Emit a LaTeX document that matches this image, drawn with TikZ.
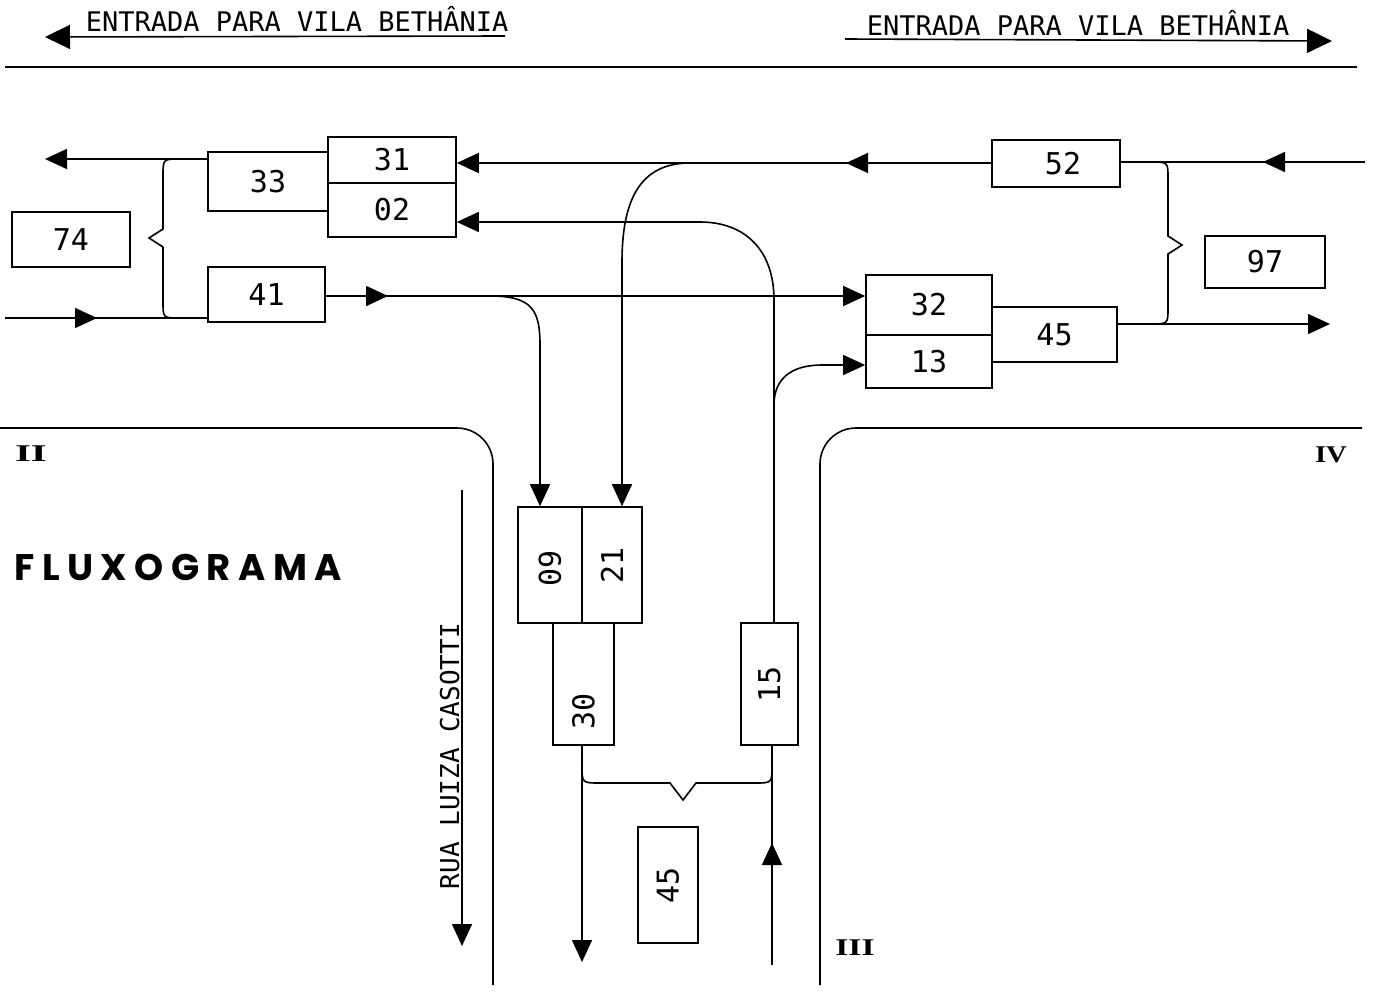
\documentclass[tikz,border=0pt]{standalone}
\usepackage{fontspec}
\setmainfont{DejaVu Sans Mono}
\newfontfamily\fluxfont{Poppins}[LetterSpace=20]
\newfontfamily\romfont{Liberation Serif}
\usetikzlibrary{arrows.meta}
\tikzset{
  arr/.style={-{Triangle[length=22pt,width=20pt]}},
  box/.style={draw, inner sep=0pt, font=\fontsize{30}{34}\selectfont},
  hdr/.style={font=\fontsize{27}{32}\selectfont, inner sep=0pt},
  rom/.style={font=\romfont\bfseries\fontsize{24}{26}\selectfont, inner sep=0pt}
}
\begin{document}
\begin{tikzpicture}[x=1pt,y=-1pt,line width=1.6pt]
\useasboundingbox (0,0) rectangle (1373,993);
% header
\node[hdr, anchor=base west] (hL) at (85,31) {ENTRADA PARA VILA BETHÂNIA};
\node[hdr, anchor=base west] (hR) at (866,35) {ENTRADA PARA VILA BETHÂNIA};
\coordinate (hL1) at (505,36);
\coordinate (hL2) at (45,37);
\coordinate (hR1) at (845,39);
\coordinate (hR2) at (1332,41);
\draw[-{Triangle[length=25pt,width=24pt]}] (hL1) -- (hL2);
\draw[-{Triangle[length=25pt,width=24pt]}] (hR1) -- (hR2);
\coordinate (r1) at (5,67);
\coordinate (r2) at (1357,67);
\draw (r1) -- (r2);
% boxes
\node[box, minimum width=118pt, minimum height=55pt] (b74) at (71,239.5) {74};
\node[box, minimum width=120pt, minimum height=59pt] (b33) at (268,181.5) {33};
\node[box, minimum width=128pt, minimum height=46pt] (b31) at (392,160) {31};
\node[box, minimum width=128pt, minimum height=54pt] (b02) at (392,210) {02};
\node[box, minimum width=117pt, minimum height=55pt] (b41) at (266.5,294.5) {41};
\node[box, minimum width=128pt, minimum height=47pt] (b52) at (1056,163.5) {\hspace*{14pt}52};
\node[box, minimum width=120pt, minimum height=52pt] (b97) at (1265,262) {97};
\node[box, minimum width=126pt, minimum height=60pt] (b32) at (929,305) {32};
\node[box, minimum width=126pt, minimum height=53pt] (b13) at (929,361.5) {13};
\node[box, minimum width=125pt, minimum height=55pt] (b45r) at (1054.5,334.5) {45};
\node[box, minimum width=64pt, minimum height=116pt] (b09) at (550,565) {\rotatebox{90}{09\hspace*{6pt}}};
\node[box, minimum width=60pt, minimum height=116pt] (b21) at (612,565) {\rotatebox{90}{21}};
\node[box, minimum width=61pt, minimum height=122pt] (b30) at (583.5,684) {\rotatebox{90}{30\hspace*{54pt}}};
\node[box, minimum width=57pt, minimum height=122pt] (b15) at (769.5,684) {\rotatebox{90}{15}};
\node[box, minimum width=60pt, minimum height=116pt] (b45b) at (668,885) {\rotatebox{90}{45}};
% left flows
\coordinate (wL1) at (45,159);
\draw[arr] (b33.west |- wL1) -- (wL1);
\coordinate (wL2) at (5,318);
\draw (wL2) -- (b41.west |- wL2);
\draw[arr] (wL2) -- (97,318);
\draw[arr] (b41.east |- 0,296) -- (b32.west |- 0,296);
\draw[arr] (b41.east |- 0,296) -- (388,296);
\draw (163,176) .. controls (163,159) .. (180,159);
\draw (180,318) .. controls (163,318) .. (163,302) -- (163,247) -- (149,238) -- (163,229) -- (163,176);
% top flow 52 -> 31
\draw[arr] (b52.west |- 0,163) -- (b31.east |- 0,163);
\draw[arr] (870,163) -- (846,163);
\coordinate (eR1) at (1365,162);
\draw (eR1) -- (b52.east |- eR1);
\draw[arr] (1287,162) -- (1263,162);
\draw (1150,162) .. controls (1168,162) .. (1168,178) -- (1168,236) -- (1182,245) -- (1168,254) -- (1168,308) .. controls (1168,324) .. (1150,324);
% 45 -> east
\coordinate (eR2) at (1330,324);
\draw[arr] (b45r.east |- eR2) -- (eR2);
% 41 branch to 09
\draw[arr] (490,296) .. controls (532,296) and (540,310) .. (540,345) -- (b09.north -| 540,0);
% 31 branch to 21
\draw[arr] (690,163) .. controls (640,163) and (622,200) .. (622,262) -- (b21.north -| 622,0);
% 15 -> 02 and 13
\draw[arr] (b15.north -| 774,0) -- (774,300) .. controls (774,250) and (745,222) .. (700,222) -- (b02.east |- 0,222);
\draw[arr] (774,405) .. controls (774,378) and (792,365) .. (822,365) -- (b13.west |- 0,365);
% bottom flows
\coordinate (s30) at (582,962);
\draw[arr] (b30.south -| s30) -- (s30);
\coordinate (s15) at (772,965);
\draw (s15) -- (b15.south -| s15);
\draw[arr] (772,868) -- (772,843);
\draw (582,765) .. controls (582,783) .. (600,783) -- (670,783) -- (683,800) -- (696,783) -- (755,783) .. controls (772,783) .. (772,765);
% roads
\draw[rounded corners=36pt] (0,428) -- (493,428) -- (493,985);
\draw[rounded corners=36pt] (1362,428) -- (820,428) -- (820,985);
\node[rom] (n2) at (31,454) {\scalebox{1.7}[1]{II}};
\node[rom] (n4) at (1331,455) {\scalebox{1.2}[1]{IV}};
\node[rom] (n3) at (855,948) {\scalebox{1.4}[1]{III}};
% street name
\node[hdr, rotate=90, anchor=base west, font=\fontsize{26}{30}\selectfont] (rua) at (459,890) {RUA LUIZA CASOTTI};
\coordinate (rs) at (462,490);
\coordinate (re) at (462,946);
\draw[arr] (rs) -- (re);
% title
\node[anchor=base west, inner sep=0pt, font=\fluxfont\bfseries\fontsize{37}{42}\selectfont] (title) at (14,580) {FLUXOGRAMA};
\end{tikzpicture}
\end{document}
